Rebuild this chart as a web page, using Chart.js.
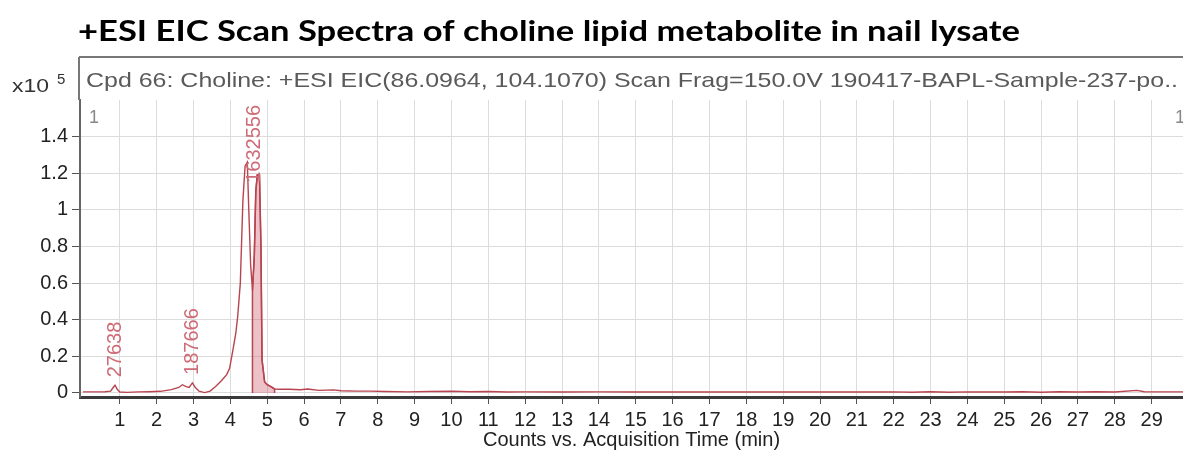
<!DOCTYPE html>
<html>
<head>
<meta charset="utf-8">
<script src="https://cdn.jsdelivr.net/npm/chart.js@4.4.1/dist/chart.umd.min.js"></script>
<style>
html, body { margin: 0; padding: 0; background: #fff; }
#wrap { position: relative; width: 1183px; height: 452px; }
</style>
</head>
<body>
<div id="wrap"><canvas id="eicChart" width="1183" height="452"></canvas></div>
<script>
// EIC trace, counts in units of x10^5
const times = [
    0.0, 0.3, 0.6, 0.75, 0.82, 0.87, 0.93, 1.0, 1.2, 1.5, 1.8, 2.1, 2.4, 2.6, 2.7, 2.8, 2.88, 2.97,
    3.05, 3.15, 3.3, 3.45, 3.6, 3.75, 3.9, 3.98, 4.07, 4.15, 4.2, 4.27, 4.34, 4.4, 4.46, 4.5, 4.55,
    4.6, 4.65, 4.69, 4.73, 4.79, 4.83, 4.86, 4.93, 5.0, 5.1, 5.2, 5.35, 5.6, 5.9, 6.1, 6.4, 6.8,
    7.0, 7.4, 7.8, 8.2, 8.8, 9.4, 10.0, 10.5, 11.0, 11.5, 12.0, 13.0, 14.0, 15.0, 16.0, 17.0, 18.0,
    19.0, 20.0, 21.0, 22.0, 22.5, 23.0, 23.5, 24.0, 25.0, 25.5, 26.0, 26.5, 27.0, 27.5, 28.0, 28.6,
    28.8, 29.3, 29.9
];
const counts = [
    0.006, 0.006, 0.007, 0.01, 0.03, 0.042, 0.02, 0.005, 0.003, 0.006, 0.007, 0.009, 0.018, 0.03, 0.045, 0.035, 0.03, 0.055,
    0.03, 0.01, 0.002, 0.01, 0.035, 0.065, 0.1, 0.135, 0.235, 0.33, 0.42, 0.6, 1.05, 1.24, 1.26, 1.0, 0.7,
    0.56, 0.75, 1.1, 1.19, 1.19, 0.8, 0.18, 0.06, 0.045, 0.035, 0.022, 0.02, 0.02, 0.018, 0.022, 0.014, 0.017,
    0.012, 0.01, 0.01, 0.008, 0.006, 0.008, 0.009, 0.007, 0.008, 0.005, 0.006, 0.005, 0.006, 0.005, 0.005, 0.005, 0.005,
    0.005, 0.005, 0.005, 0.006, 0.004, 0.007, 0.004, 0.006, 0.005, 0.007, 0.004, 0.007, 0.005, 0.007, 0.005, 0.014,
    0.007, 0.006, 0.006
];

// integrated peak (shaded)
const integrationStart = 4.6;
const integrationEnd = 5.2;

// peak area labels
const peakTimes = [0.87, 2.97, 4.65];
const peakLabels = ['27638', '187666', '1632556'];

const xTicks = [1, 2, 3, 4, 5, 6, 7, 8, 9, 10, 11, 12, 13, 14, 15, 16, 17, 18, 19, 20, 21, 22, 23, 24, 25, 26, 27, 28, 29];
const yTicks = [0, 0.2, 0.4, 0.6, 0.8, 1, 1.2, 1.4];

const lineColor = '#b8444f';
const labelColor = '#cf6b76';

const trace = times.map((t, i) => ({ x: t, y: counts[i] }));
const shaded = [{ x: integrationStart, y: 0 }]
    .concat(trace.filter(p => p.x >= integrationStart && p.x <= integrationEnd))
    .concat([{ x: integrationEnd, y: 0 }]);

function fitText(ctx, text, x, y, width) {
    const w = ctx.measureText(text).width;
    ctx.save();
    ctx.translate(x, y);
    ctx.scale(width / w, 1);
    ctx.fillText(text, 0, 0);
    ctx.restore();
}

// title, header strip and axis multiplier
const framePlugin = {
    id: 'frame',
    afterDraw(chart) {
        const ctx = chart.ctx;
        const area = chart.chartArea;
        ctx.save();
        ctx.textBaseline = 'alphabetic';
        ctx.textAlign = 'left';

        ctx.fillStyle = '#000';
        ctx.font = 'bold 29px Lato';
        fitText(ctx, '+ESI EIC Scan Spectra of choline lipid metabolite in nail lysate', 78, 41, 942);

        ctx.strokeStyle = '#777';
        ctx.lineWidth = 2;
        ctx.beginPath();
        ctx.moveTo(area.left - 1, 57);
        ctx.lineTo(area.right, 57);
        ctx.moveTo(area.left - 1, 57);
        ctx.lineTo(area.left - 1, area.top);
        ctx.stroke();

        ctx.fillStyle = '#5a5a5a';
        ctx.font = '21px "Liberation Sans"';
        fitText(ctx, 'Cpd 66: Choline: +ESI EIC(86.0964, 104.1070) Scan Frag=150.0V 190417-BAPL-Sample-237-po..', 86, 87, 1092);

        ctx.fillStyle = '#333';
        ctx.font = '19px "Liberation Sans"';
        fitText(ctx, 'x10', 12, 92, 37);
        ctx.font = '15px "Liberation Sans"';
        ctx.fillText('5', 57, 84);

        ctx.fillStyle = '#888';
        ctx.font = '18px "Liberation Sans"';
        ctx.fillText('1', area.left + 9, 123);
        ctx.fillText('1', area.right - 8, 123);
        ctx.restore();
    },
    afterDatasetsDraw(chart) {
        const ctx = chart.ctx;
        const xs = chart.scales.x, ys = chart.scales.y;
        const area = chart.chartArea;
        ctx.save();
        ctx.fillStyle = labelColor;
        ctx.font = '20px "Liberation Sans"';
        ctx.textAlign = 'left';
        ctx.textBaseline = 'middle';
        peakTimes.forEach((t, i) => {
            let top = 0;
            trace.forEach(p => { if (Math.abs(p.x - t) <= 0.12) top = Math.max(top, p.y); });
            const x = xs.getPixelForValue(t);
            const w = ctx.measureText(peakLabels[i]).width;
            let y = ys.getPixelForValue(top) - 8;
            if (y - w < area.top + 5) y = area.top + 5 + w;
            ctx.save();
            ctx.translate(x, y);
            ctx.rotate(-Math.PI / 2);
            ctx.fillText(peakLabels[i], 0, 0);
            ctx.restore();
        });
        ctx.restore();
    }
};

const tickFont = { family: 'Liberation Sans', size: 20 };

new Chart(document.getElementById('eicChart'), {
    type: 'line',
    data: {
        datasets: [
            {
                data: trace,
                borderColor: lineColor,
                borderWidth: 1.4,
                pointRadius: 0,
                tension: 0,
                fill: false,
                order: 1
            },
            {
                data: shaded,
                borderColor: lineColor,
                borderWidth: 1.5,
                backgroundColor: 'rgba(205, 95, 110, 0.38)',
                pointRadius: 0,
                tension: 0,
                fill: 'origin',
                order: 2
            }
        ]
    },
    options: {
        responsive: false,
        animation: false,
        devicePixelRatio: 1,
        layout: { padding: { top: 100, left: 0, right: 0, bottom: 0 } },
        scales: {
            x: {
                type: 'linear',
                min: -0.08,
                max: 29.85,
                afterBuildTicks: s => { s.ticks = xTicks.map(v => ({ value: v })); },
                afterFit: s => { s.height = 55; },
                grid: { color: '#dcdcdc', tickColor: '#555', tickLength: 7 },
                border: { color: '#3a3a3a', width: 3 },
                ticks: {
                    color: '#222',
                    font: tickFont,
                    padding: 4,
                    maxRotation: 0,
                    autoSkip: false
                },
                title: {
                    display: true,
                    text: 'Counts vs. Acquisition Time (min)',
                    color: '#222',
                    font: { family: 'Liberation Sans', size: 20 },
                    padding: { top: -6, bottom: 0 }
                }
            },
            y: {
                min: -0.022,
                max: 1.6,
                afterBuildTicks: s => { s.ticks = yTicks.map(v => ({ value: v })); },
                afterFit: s => { s.width = 80; },
                grid: { color: '#dcdcdc', tickColor: '#555', tickLength: 8 },
                border: { color: '#666', width: 2 },
                ticks: {
                    color: '#222',
                    font: tickFont,
                    padding: 4,
                    callback: v => String(Number(v.toFixed(1)))
                }
            }
        },
        plugins: {
            legend: { display: false },
            tooltip: { enabled: false }
        }
    },
    plugins: [framePlugin]
});
</script>
</body>
</html>
